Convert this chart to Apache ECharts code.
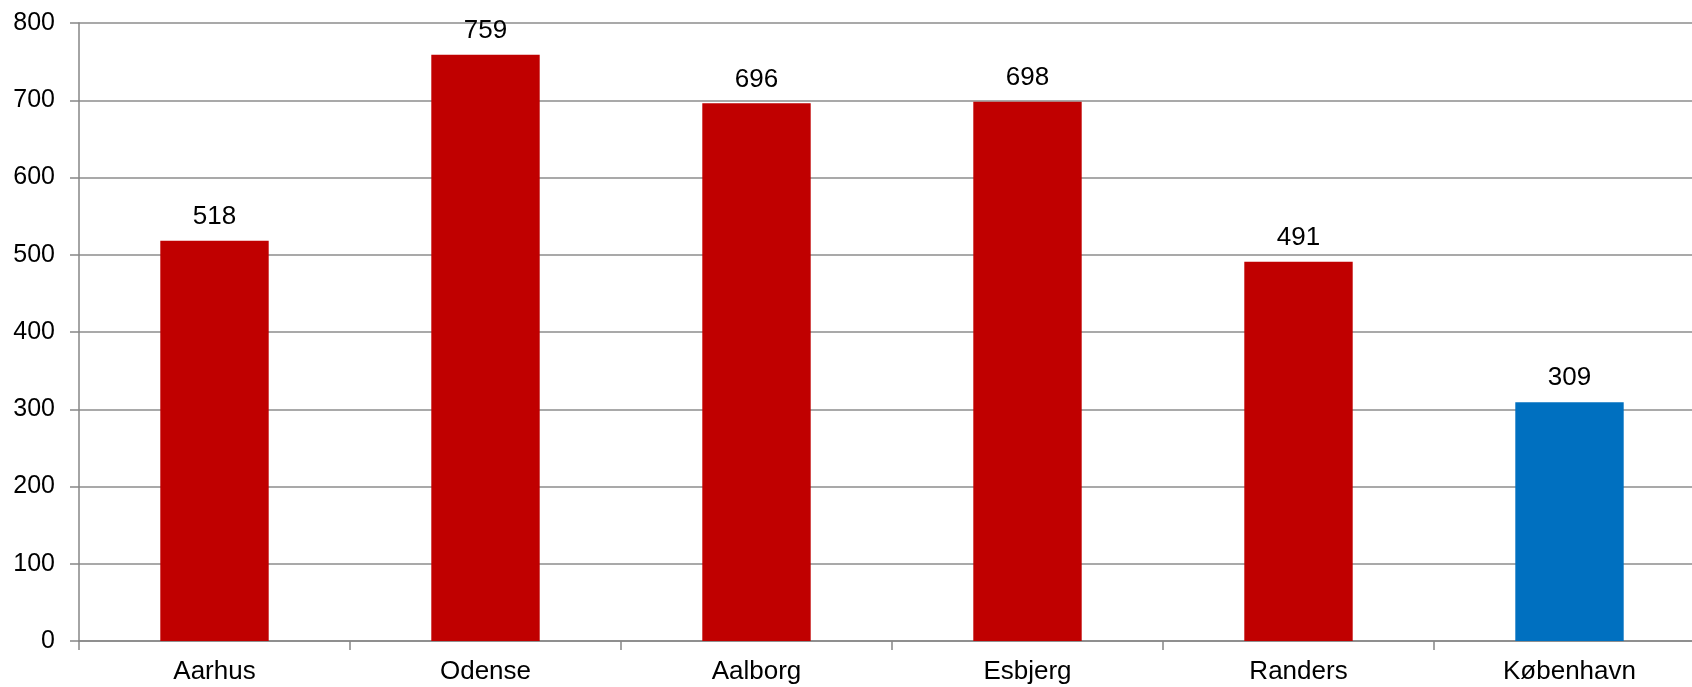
<!DOCTYPE html>
<html><head><meta charset="utf-8">
<script src="https://cdn.jsdelivr.net/npm/echarts@6/dist/echarts.min.js"></script>
<style>html,body{margin:0;padding:0;background:#fff}#c{width:1692px;height:687px}</style>
</head><body><div id="c"></div>
<script>
const categories = ["Aarhus", "Odense", "Aalborg", "Esbjerg", "Randers", "København"];
const values = [518, 759, 696, 698, 491, 309];
const barColors = ["#C00000", "#C00000", "#C00000", "#C00000", "#C00000", "#0070C0"];
const yTicks = [0, 100, 200, 300, 400, 500, 600, 700, 800];

const chart = echarts.init(document.getElementById('c'), null, {renderer: 'canvas'});
const font = 'Liberation Sans';
chart.setOption({
  animation: false,
  grid: {left: 79, top: 23, bottom: 46, width: 1626, containLabel: false, outerBoundsMode: 'none'},
  xAxis: {
    type: 'category', data: categories,
    axisLine: {lineStyle: {color: '#868686', width: 1.5}},
    axisTick: {show: true, length: 9, lineStyle: {color: '#868686', width: 1.5}},
    axisLabel: {color: '#000', fontSize: 26, fontFamily: font, margin: 18}
  },
  yAxis: {
    type: 'value', min: yTicks[0], max: yTicks[yTicks.length - 1], interval: 100,
    axisLine: {show: true, lineStyle: {color: '#868686', width: 1.5}},
    axisTick: {show: true, length: 9, lineStyle: {color: '#868686', width: 1.5}},
    axisLabel: {color: '#000', fontSize: 25, fontFamily: font, margin: 24},
    splitLine: {show: true, lineStyle: {color: '#8c8c8c', width: 1.5}}
  },
  series: [{
    type: 'bar',
    data: values.map((v, i) => ({value: v, itemStyle: {color: barColors[i]}})),
    barWidth: '40%',
    label: {show: true, position: 'top', distance: 11, color: '#000', fontSize: 26, fontFamily: font}
  }]
});
</script></body></html>
